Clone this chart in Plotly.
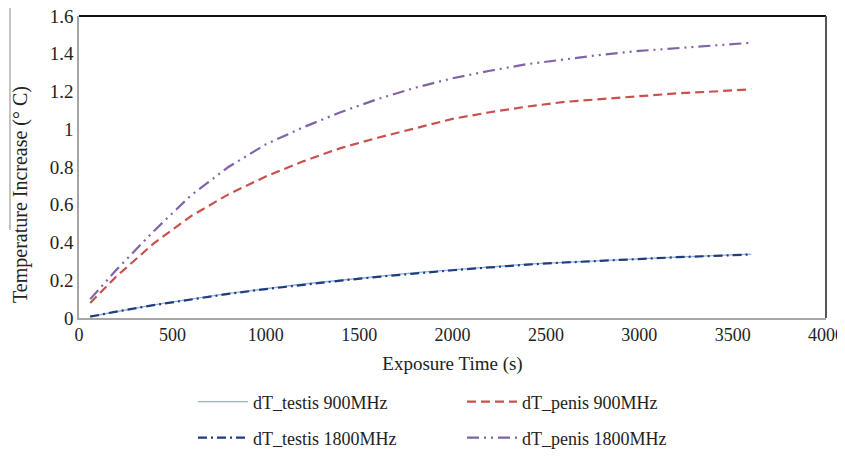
import plotly.graph_objects as go

time_s = [60, 200, 400, 600, 800, 1000, 1200, 1400, 1600, 1800, 2000,
          2200, 2400, 2600, 2800, 3000, 3200, 3400, 3600]
dT_testis_900 = [0.008, 0.035, 0.070, 0.100, 0.130, 0.155, 0.180, 0.200, 0.220, 0.240,
                 0.255, 0.270, 0.285, 0.295, 0.305, 0.315, 0.323, 0.330, 0.338]
dT_penis_900 = [0.080, 0.220, 0.395, 0.540, 0.655, 0.750, 0.830, 0.900, 0.955, 1.005,
                1.055, 1.090, 1.120, 1.145, 1.160, 1.175, 1.190, 1.200, 1.212]
dT_testis_1800 = [0.007, 0.034, 0.068, 0.098, 0.128, 0.153, 0.177, 0.198, 0.218, 0.237,
                  0.253, 0.268, 0.283, 0.294, 0.304, 0.313, 0.322, 0.329, 0.337]
dT_penis_1800 = [0.100, 0.255, 0.460, 0.650, 0.800, 0.920, 1.010, 1.090, 1.160, 1.220,
                 1.270, 1.310, 1.345, 1.370, 1.395, 1.415, 1.430, 1.445, 1.458]

x_ticks = [0, 500, 1000, 1500, 2000, 2500, 3000, 3500, 4000]
y_ticks = [0, 0.2, 0.4, 0.6, 0.8, 1, 1.2, 1.4, 1.6]
y_tick_labels = ["0", "0.2", "0.4", "0.6", "0.8", "1", "1.2", "1.4", "1.6"]

FONT = "Liberation Serif, Times New Roman, serif"

# page body has an 8px margin; size the figure so the page does not overflow
OFF = 8
W, H = 845 - OFF, 457 - 2 * OFF

fig = go.Figure()
fig.add_trace(go.Scatter(x=time_s, y=dT_testis_900, mode="lines", name="dT_testis 900MHz",
                         line=dict(color="#8DB0DC", width=1.3), legend="legend"))
fig.add_trace(go.Scatter(x=time_s, y=dT_penis_900, mode="lines", name="dT_penis 900MHz",
                         line=dict(color="#C8504D", width=2.2, dash="9px,5px"), legend="legend"))
fig.add_trace(go.Scatter(x=time_s, y=dT_testis_1800, mode="lines", name="dT_testis 1800MHz",
                         line=dict(color="#1F3D7A", width=2.2, dash="9px,4px,2px,4px"), legend="legend2"))
fig.add_trace(go.Scatter(x=time_s, y=dT_penis_1800, mode="lines", name="dT_penis 1800MHz",
                         line=dict(color="#8064A8", width=2.2, dash="12px,5px,2px,5px,2px,5px"), legend="legend2"))

legend_common = dict(orientation="h", xanchor="left", yanchor="middle",
                     xref="container", yref="container",
                     font=dict(family=FONT, size=18, color="#222"),
                     entrywidth=204, entrywidthmode="pixels",
                     bgcolor="rgba(0,0,0,0)", itemwidth=50)

fig.update_layout(
    width=W, height=H,
    margin=dict(l=79 - OFF, r=845 - 826, t=16 - OFF, b=H + OFF - 318, autoexpand=False),
    paper_bgcolor="white", plot_bgcolor="white",
    font=dict(family=FONT, size=19, color="#222"),
    showlegend=True,
    legend=dict(x=(193 - OFF) / W, y=1 - (402 - OFF) / H, **legend_common),
    legend2=dict(x=(193 - OFF) / W, y=1 - (438 - OFF) / H, **legend_common),
    xaxis=dict(range=[0, 4000], tickvals=x_ticks, showgrid=False, zeroline=False,
               showline=True, linecolor="#A6A6A6", linewidth=1.5, ticks="", automargin=False,
               ticklabeloverflow="allow",
               tickfont=dict(family=FONT, size=18, color="#222"),
               title=dict(text="Exposure Time (s)", font=dict(family=FONT, size=19, color="#222"),
                          standoff=12)),
    yaxis=dict(range=[0, 1.6], tickvals=y_ticks, ticktext=y_tick_labels, showgrid=False,
               zeroline=False, showline=True, linecolor="#A6A6A6", linewidth=1.5, ticks="",
               automargin=False, ticklabeloverflow="allow",
               tickfont=dict(family=FONT, size=19, color="#222")),
    annotations=[dict(text="Temperature Increase (° C)", textangle=-90, xref="paper", yref="paper",
                      x=(20 - 79) / 747, y=(318 - 195) / 302, xanchor="center", yanchor="middle",
                      showarrow=False, font=dict(family=FONT, size=20, color="#222"))],
    shapes=[
        dict(type="line", xref="paper", yref="paper", x0=0, x1=1, y0=1, y1=1,
             line=dict(color="#111", width=2)),
        dict(type="line", xref="paper", yref="paper", x0=1, x1=1, y0=0, y1=1,
             line=dict(color="#555", width=2)),
        dict(type="line", xref="paper", yref="paper", x0=(10 - 79) / 747, x1=(10 - 79) / 747,
             y0=(318 - 230) / 302, y1=(318 - 8) / 302,
             line=dict(color="#888", width=1)),
    ],
)

fig.write_html("out.html")
